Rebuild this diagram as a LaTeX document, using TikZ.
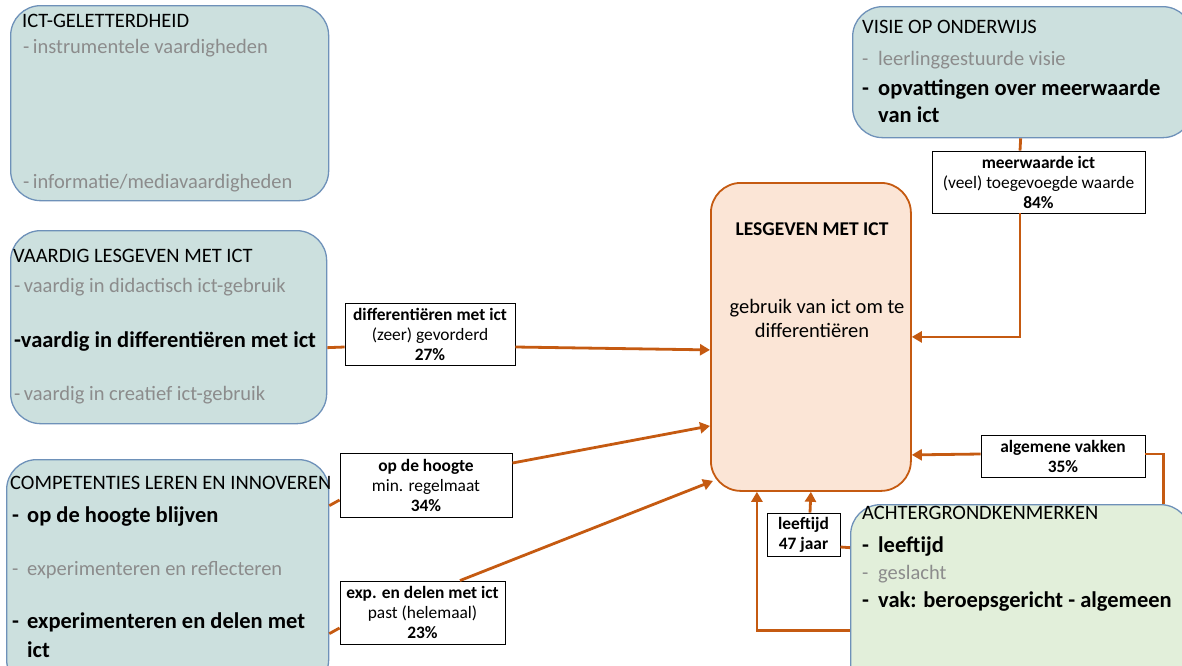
\documentclass[tikz,border=0pt]{standalone}
\usepackage{fontspec}
\setmainfont{Carlito}
\usetikzlibrary{arrows.meta}
\definecolor{tealfill}{RGB}{204,224,222}
\definecolor{boxblue}{RGB}{110,145,185}
\definecolor{greenfill}{RGB}{226,239,218}
\definecolor{orangec}{RGB}{197,90,17}
\definecolor{peach}{RGB}{251,229,214}
\definecolor{grayt}{RGB}{140,140,140}
\tikzset{
  bigbox/.style={draw=boxblue, line width=1.3pt, fill=tealfill, rounded corners=30pt, anchor=north west, inner sep=0pt},
  txt/.style={anchor=base west, inner sep=0pt, font=\fontsize{20.5}{24}\selectfont},
  gtxt/.style={txt, text=grayt},
  btxt/.style={anchor=base west, inner sep=0pt, font=\fontsize{22.5}{27}\selectfont\bfseries},
  lbl/.style={draw=black, fill=white, line width=0.9pt, align=center, inner sep=0pt, font=\fontsize{17.4}{20}\selectfont},
  ln/.style={draw=orangec, line width=2.8pt},
  arr/.style={draw=orangec, line width=2.8pt, -{Triangle[length=10pt,width=11pt]}},
}
\begin{document}
\begin{tikzpicture}[x=1pt,y=-1pt]
\useasboundingbox (0,0) rectangle (1182,665);
% big boxes
\node[bigbox, minimum width=318pt, minimum height=195pt] (lit) at (10,5) {};
\node[bigbox, minimum width=340pt, minimum height=131pt] (visie) at (852,6) {};
\node[bigbox, minimum width=316pt, minimum height=193pt] (vaardig) at (10,230) {};
\node[bigbox, minimum width=322pt, minimum height=230pt] (comp) at (6,459) {};
\node[bigbox, fill=greenfill, minimum width=340pt, minimum height=200pt] (achter) at (850,504) {};
\node[draw=orangec, line width=1.8pt, fill=peach, rounded corners=30pt, anchor=north west, minimum width=200pt, minimum height=308pt, inner sep=0pt] (central) at (710,182) {};

% texts: ICT-geletterdheid
\node[txt] (lit0) at (22,27) {ICT-GELETTERDHEID};
\node[gtxt] (lit1) at (23,53) {-\,instrumentele vaardigheden};
\node[gtxt] (lit2) at (23,188) {-\,informatie/mediavaardigheden};
% visie
\node[txt] (vis0) at (862,33) {VISIE OP ONDERWIJS};
\node[gtxt] (vis1d) at (862,65) {-};
\node[gtxt] (vis1) at (878,65) {leerlinggestuurde visie};
\node[btxt] (vis2d) at (862,95) {-};
\node[btxt] (vis2) at (878,95) {opvattingen over meerwaarde};
\node[btxt] (vis3) at (878,122) {van ict};
% vaardig
\node[txt] (vaa0) at (13,262) {VAARDIG LESGEVEN MET ICT};
\node[gtxt] (vaa1) at (14,292) {-\,vaardig in didactisch ict-gebruik};
\node[btxt] (vaa2) at (14,347) {-vaardig in differentiëren met ict};
\node[gtxt] (vaa3) at (14,400) {-\,vaardig in creatief ict-gebruik};
% competenties
\node[txt] (com0) at (10,489) {COMPETENTIES LEREN EN INNOVEREN};
\node[btxt] (com1d) at (12,522) {-};
\node[btxt] (com1) at (27,522) {op de hoogte blijven};
\node[gtxt] (com2d) at (12,575) {-};
\node[gtxt] (com2) at (27,575) {experimenteren en reflecteren};
\node[btxt] (com3d) at (12,628) {-};
\node[btxt] (com3) at (27,628) {experimenteren en delen met};
\node[btxt] (com4) at (27,657) {ict};
% achtergrond
\node[txt] (ach0) at (862,519) {ACHTERGRONDKENMERKEN};
\node[btxt] (ach1d) at (862,552) {-};
\node[btxt] (ach1) at (878,552) {leeftijd};
\node[gtxt] (ach2d) at (862,579) {-};
\node[gtxt] (ach2) at (878,579) {geslacht};
\node[btxt] (ach3d) at (862,607) {-};
\node[btxt] (ach3) at (878,607) {vak: beroepsgericht - algemeen};
% central
\node[anchor=base, inner sep=0pt, font=\fontsize{19.5}{23}\selectfont\bfseries] (cen0) at (812,235) {LESGEVEN MET ICT};
\node[anchor=base, inner sep=0pt, font=\fontsize{20.5}{24}\selectfont] (cen1) at (817,313) {gebruik van ict om te};
\node[anchor=base, inner sep=0pt, font=\fontsize{20.5}{24}\selectfont] (cen2) at (812,337) {differentiëren};

% label boxes
\node[lbl, minimum width=170pt, minimum height=62pt] (diff) at (430,334) {\textbf{differentiëren met ict}\\(zeer) gevorderd\\\textbf{27\%}};
\node[lbl, minimum width=172pt, minimum height=64pt] (opd) at (426,485) {\textbf{op de hoogte}\\min. regelmaat\\\textbf{34\%}};
\node[lbl, minimum width=165pt, minimum height=63pt] (exp) at (422.5,612.5) {\textbf{exp. en delen met ict}\\past (helemaal)\\\textbf{23\%}};
\node[lbl, minimum width=213pt, minimum height=62pt] (mw) at (1038.5,182) {\textbf{meerwaarde ict}\\(veel) toegevoegde waarde\\\textbf{84\%}};
\node[lbl, minimum width=164pt, minimum height=42pt] (alg) at (1063,456) {\textbf{algemene vakken}\\\textbf{35\%}};
\node[lbl, minimum width=73pt, minimum height=43pt] (lf) at (803.5,534.5) {\textbf{leeftijd}\\\textbf{47 jaar}};

% connectors
\draw[ln] ([yshift=-20.5pt]vaardig.east) -- ([yshift=-13pt]diff.west);
\draw[arr] ([yshift=-13pt]diff.east) -- ([yshift=-13pt]central.west);
\draw[ln] ([yshift=69pt]comp.east) -- ([yshift=-15pt]opd.west);
\draw[arr] ([yshift=22pt]opd.east) -- ([yshift=-89pt]central.west);
\draw[ln] ([yshift=-59pt]comp.east) -- ([yshift=-15.5pt]exp.west);
\draw[arr] ([xshift=37.5pt]exp.north) -- ([xshift=3pt,yshift=-144pt]central.west);
\draw[ln] ([xshift=-2pt]visie.south) -- ([xshift=-18.5pt]mw.north);
\draw[arr] ([xshift=-18.5pt]mw.south) |- (central.east);
\draw[ln] ([xshift=143pt]achter.north) |- ([yshift=2pt]alg.east);
\draw[arr] ([yshift=2pt]alg.west) -- ([yshift=-118pt]central.east);
\draw[ln] ([yshift=-12.5pt]lf.east) -- ([yshift=57pt]achter.west);
\draw[arr] ([xshift=6.5pt]lf.north) -- (central.south);
\draw[arr] ([yshift=-26pt]achter.west) -| ([xshift=-54pt]central.south);
\end{tikzpicture}
\end{document}
